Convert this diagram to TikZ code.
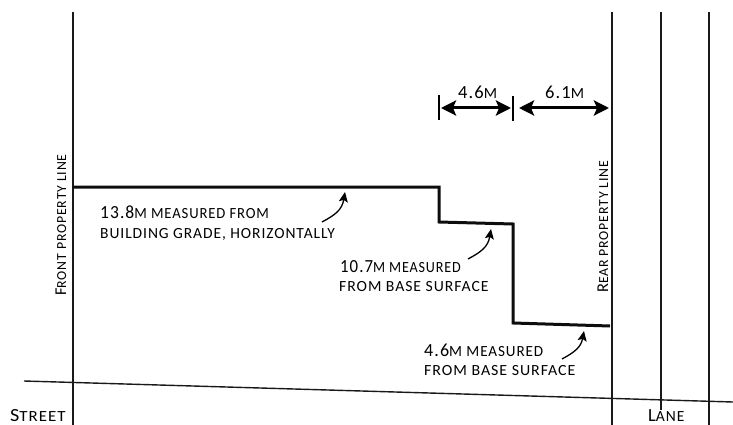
\documentclass[tikz,border=0pt]{standalone}
\usepackage{fontspec}
\usepackage{graphicx}
\setmainfont[LetterSpace=6]{Carlito}
\usetikzlibrary{arrows.meta}
\newcommand{\Bg}[1]{{\fontsize{18.5}{20}\selectfont #1}}
\newcommand{\Sq}[2]{\scalebox{#1}[1]{#2}}
\tikzset{
  x=1pt,y=-1pt,
  lbl/.style={inner sep=0pt,anchor=base west,font=\fontsize{15.5}{17}\selectfont,text=black},
  vlbl/.style={lbl,rotate=90},
  thinline/.style={line width=1.4pt,draw=black!90},
  wall/.style={line width=3pt,draw=black!95,line join=miter},
  tick/.style={line width=1.1pt,draw=black},
  dimarrow/.style={line width=3pt,{Stealth[length=15pt,width=15pt,inset=3pt]}-{Stealth[length=15pt,width=15pt,inset=3pt]}},
  leader/.style={line width=1.3pt,-{Stealth[length=10pt,width=9pt,inset=2pt]}},
}
\begin{document}
\begin{tikzpicture}
\useasboundingbox (0,0) rectangle (733,425);
% lines
\coordinate (ft) at (73,12); \coordinate (fb) at (73,425);
\coordinate (rt) at (612,12); \coordinate (rb) at (612,425);
\coordinate (lt) at (661,12); \coordinate (lb) at (661,410);
\coordinate (mt) at (709,12); \coordinate (mb) at (709,425);
\coordinate (sa) at (24,381); \coordinate (sb) at (733,402);
\draw[thinline] (ft)--(fb);
\draw[thinline] (rt)--(rb);
\draw[thinline] (lt)--(lb);
\draw[thinline] (mt)--(mb);
\draw[thinline] (sa)--(sb);
% profile
\coordinate (p0) at (73,187); \coordinate (p1) at (439,187); \coordinate (p2) at (439,222);
\coordinate (p3) at (513,224); \coordinate (p4) at (513,323); \coordinate (p5) at (610,326);
\draw[wall] (p0)--(p1)--(p2)--(p3)--(p4)--(p5);
% dims
\coordinate (t1a) at (439,95); \coordinate (t1b) at (439,120);
\coordinate (t2a) at (513,96); \coordinate (t2b) at (513,121);
\draw[tick] (t1a)--(t1b);
\draw[tick] (t2a)--(t2b);
\coordinate (d1) at (441,108); \coordinate (d2) at (511,108);
\coordinate (d3) at (519,108); \coordinate (d4) at (609,108);
\draw[dimarrow] (d1)--(d2);
\draw[dimarrow] (d3)--(d4);
% leaders
\coordinate (a1) at (322,222); \coordinate (a2) at (345,192);
\coordinate (b1) at (468,259); \coordinate (b2) at (491,229);
\coordinate (c1) at (562,359); \coordinate (c2) at (584,331);
\draw[leader] (a1) .. controls (335,215) and (342,210) .. (a2);
\draw[leader] (b1) .. controls (481,252) and (488,247) .. (b2);
\draw[leader] (c1) .. controls (575,352) and (581,347) .. (c2);
% text
\node[lbl] (n1) at (458,99) {\Bg{4.6}M};
\node[lbl] (n2) at (545,99) {\Bg{6.1}M};
\node[lbl] (n3) at (100,218) {\Sq{.945}{\Bg{13.8}M MEASURED FROM}};
\node[lbl] (n4) at (100,238) {BUILDING GRADE, HORIZONTALLY};
\node[lbl] (n5) at (340,272) {\Sq{.91}{\Bg{10.7}M MEASURED}};
\node[lbl] (n6) at (339,291) {\Sq{1.014}{FROM BASE SURFACE}};
\node[lbl] (n7) at (424,356) {\Sq{.975}{\Bg{4.6}M MEASURED}};
\node[lbl] (n8) at (424,375) {\Sq{1.027}{FROM BASE SURFACE}};
\node[lbl] (n9) at (10,421.5) {\Sq{1.09}{\Bg{S}TREET}};
\node[lbl] (n10) at (648,421.5) {\Bg{L}ANE};
\node[vlbl] (n11) at (66,296) {\scalebox{.89}{\Bg{F}RONT PROPERTY LINE}};
\node[vlbl] (n12) at (608,293) {\scalebox{.89}{\Bg{R}EAR PROPERTY LINE}};
\end{tikzpicture}
\end{document}
